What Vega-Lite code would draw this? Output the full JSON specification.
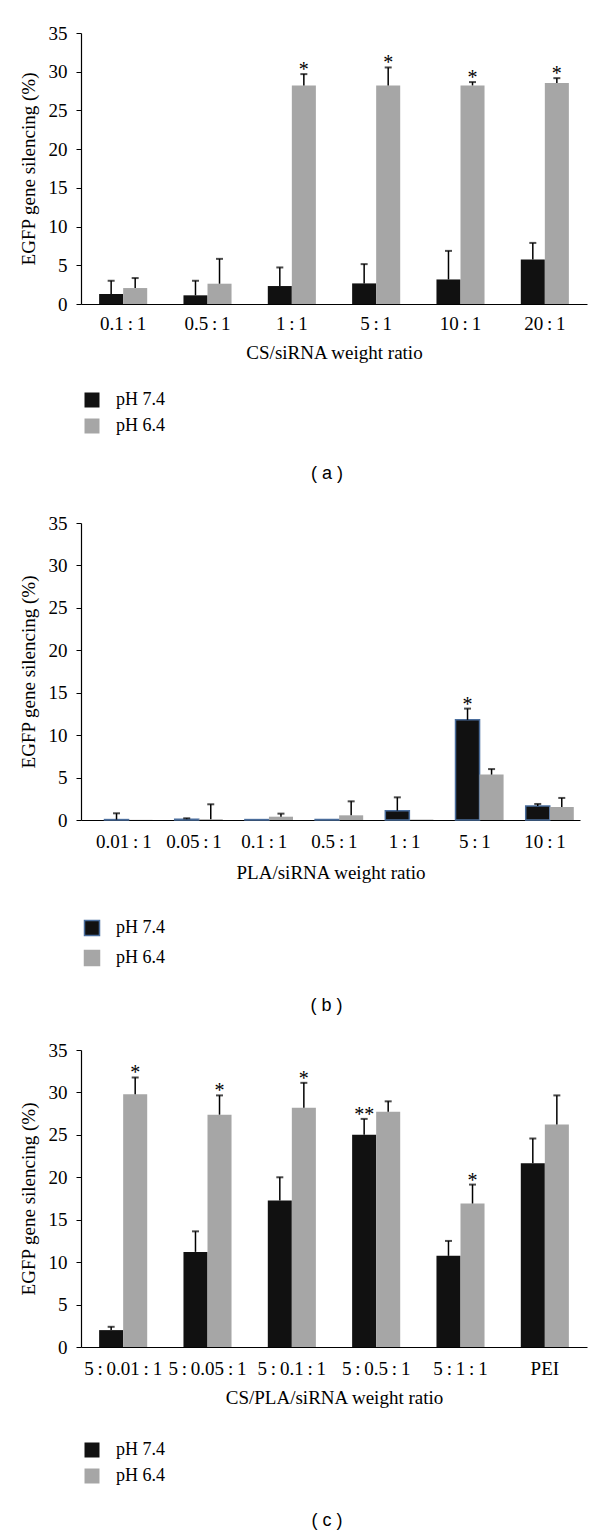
{
  "$schema": "https://vega.github.io/schema/vega-lite/v6.json",
  "background": "white",
  "padding": {"left": 19, "top": 24, "right": 5, "bottom": 0},
  "config": {
    "font": "Liberation Serif",
    "view": {"stroke": null},
    "axis": {"labelFont": "Liberation Serif", "labelFontSize": 19, "labelColor": "black", "titleFont": "Liberation Serif", "titleFontSize": 19, "titleFontWeight": "normal", "titleColor": "black", "domainColor": "black", "domainWidth": 1.2, "tickColor": "black", "grid": false, "labelOverlap": false},
    "axisY": {"labelOverlap": false, "labelBound": false, "labelSeparation": -40, "tickCount": 8},
    "axisQuantitative": {"labelOverlap": false},
    "legend": {"title": null, "orient": "none", "direction": "vertical", "symbolType": "square", "symbolSize": 225, "symbolStrokeWidth": 0, "labelFont": "Liberation Serif", "labelFontSize": 18, "labelColor": "black", "labelOffset": 15, "rowPadding": 8},
    "title": {"font": "Liberation Sans", "fontSize": 18, "fontWeight": "normal", "orient": "bottom", "anchor": "middle", "color": "black"}
  },
  "datasets": {
    "a": [
      {"ratio": "0.1\u2009:\u20091", "pH": "pH 7.4", "value": 1.29, "err": 3.0, "star": null},
      {"ratio": "0.1\u2009:\u20091", "pH": "pH 6.4", "value": 2.06, "err": 3.35, "star": null},
      {"ratio": "0.5\u2009:\u20091", "pH": "pH 7.4", "value": 1.12, "err": 3.0, "star": null},
      {"ratio": "0.5\u2009:\u20091", "pH": "pH 6.4", "value": 2.62, "err": 5.83, "star": null},
      {"ratio": "1\u2009:\u20091", "pH": "pH 7.4", "value": 2.32, "err": 4.72, "star": null},
      {"ratio": "1\u2009:\u20091", "pH": "pH 6.4", "value": 28.23, "err": 29.69, "star": "*"},
      {"ratio": "5\u2009:\u20091", "pH": "pH 7.4", "value": 2.66, "err": 5.15, "star": null},
      {"ratio": "5\u2009:\u20091", "pH": "pH 6.4", "value": 28.23, "err": 30.55, "star": "*"},
      {"ratio": "10\u2009:\u20091", "pH": "pH 7.4", "value": 3.17, "err": 6.86, "star": null},
      {"ratio": "10\u2009:\u20091", "pH": "pH 6.4", "value": 28.23, "err": 28.66, "star": "*"},
      {"ratio": "20\u2009:\u20091", "pH": "pH 7.4", "value": 5.75, "err": 7.89, "star": null},
      {"ratio": "20\u2009:\u20091", "pH": "pH 6.4", "value": 28.53, "err": 29.17, "star": "*"}
    ],
    "b": [
      {"ratio": "0.01\u2009:\u20091", "pH": "pH 7.4", "value": 0.05, "err": 0.79, "star": null},
      {"ratio": "0.01\u2009:\u20091", "pH": "pH 6.4", "value": 0.02, "err": null, "star": null},
      {"ratio": "0.05\u2009:\u20091", "pH": "pH 7.4", "value": 0.1, "err": 0.2, "star": null},
      {"ratio": "0.05\u2009:\u20091", "pH": "pH 6.4", "value": 0.1, "err": 1.85, "star": null},
      {"ratio": "0.1\u2009:\u20091", "pH": "pH 7.4", "value": 0.05, "err": null, "star": null},
      {"ratio": "0.1\u2009:\u20091", "pH": "pH 6.4", "value": 0.39, "err": 0.75, "star": null},
      {"ratio": "0.5\u2009:\u20091", "pH": "pH 7.4", "value": 0.05, "err": null, "star": null},
      {"ratio": "0.5\u2009:\u20091", "pH": "pH 6.4", "value": 0.55, "err": 2.2, "star": null},
      {"ratio": "1\u2009:\u20091", "pH": "pH 7.4", "value": 1.1, "err": 2.67, "star": null},
      {"ratio": "1\u2009:\u20091", "pH": "pH 6.4", "value": 0.05, "err": null, "star": null},
      {"ratio": "5\u2009:\u20091", "pH": "pH 7.4", "value": 11.8, "err": 13.13, "star": "*"},
      {"ratio": "5\u2009:\u20091", "pH": "pH 6.4", "value": 5.35, "err": 6.0, "star": null},
      {"ratio": "10\u2009:\u20091", "pH": "pH 7.4", "value": 1.65, "err": 1.89, "star": null},
      {"ratio": "10\u2009:\u20091", "pH": "pH 6.4", "value": 1.53, "err": 2.6, "star": null}
    ],
    "c": [
      {"ratio": "5\u2009:\u20090.01\u2009:\u20091", "pH": "pH 7.4", "value": 1.99, "err": 2.38, "star": null},
      {"ratio": "5\u2009:\u20090.01\u2009:\u20091", "pH": "pH 6.4", "value": 29.8, "err": 31.76, "star": "*"},
      {"ratio": "5\u2009:\u20090.05\u2009:\u20091", "pH": "pH 7.4", "value": 11.21, "err": 13.63, "star": null},
      {"ratio": "5\u2009:\u20090.05\u2009:\u20091", "pH": "pH 6.4", "value": 27.38, "err": 29.65, "star": "*"},
      {"ratio": "5\u2009:\u20090.1\u2009:\u20091", "pH": "pH 7.4", "value": 17.27, "err": 20.0, "star": null},
      {"ratio": "5\u2009:\u20090.1\u2009:\u20091", "pH": "pH 6.4", "value": 28.2, "err": 31.13, "star": "*"},
      {"ratio": "5\u2009:\u20090.5\u2009:\u20091", "pH": "pH 7.4", "value": 25.0, "err": 26.88, "star": "**"},
      {"ratio": "5\u2009:\u20090.5\u2009:\u20091", "pH": "pH 6.4", "value": 27.73, "err": 28.95, "star": null},
      {"ratio": "5\u2009:\u20091\u2009:\u20091", "pH": "pH 7.4", "value": 10.74, "err": 12.5, "star": null},
      {"ratio": "5\u2009:\u20091\u2009:\u20091", "pH": "pH 6.4", "value": 16.91, "err": 19.14, "star": "*"},
      {"ratio": "PEI", "pH": "pH 7.4", "value": 21.64, "err": 24.57, "star": null},
      {"ratio": "PEI", "pH": "pH 6.4", "value": 26.21, "err": 29.65, "star": null}
    ]
  },
  "columns": 1,
  "align": "none",
  "spacing": 26,
  "resolve": {"legend": {"color": "independent"}, "scale": {"color": "independent"}},
  "concat": [
    {
      "width": 506, "height": 271,
      "data": {"name": "a"},
      "title": {"text": "( a )", "offset": 30, "dx": -7, "subtitle": " ", "subtitleFontSize": 5, "subtitlePadding": 0},
      "encoding": {
        "x": {"field": "ratio", "type": "nominal", "sort": null, "scale": {"paddingInner": 0.43, "paddingOuter": 0.215}, "axis": {"title": "CS/siRNA weight ratio", "labelAngle": 0, "ticks": false, "labelPadding": 10, "titlePadding": 10}},
        "xOffset": {"field": "pH", "type": "nominal", "sort": ["pH 7.4", "pH 6.4"], "scale": {"paddingInner": 0, "paddingOuter": 0}}
      },
      "layer": [
        {"mark": {"type": "bar"},
         "encoding": {
           "y": {"field": "value", "type": "quantitative", "scale": {"domain": [0, 35]}, "axis": {"title": "EGFP gene silencing (%)", "values": [0, 5, 10, 15, 20, 25, 30, 35], "tickCount": 8, "labelOverlap": false, "labelSeparation": -40, "tickSize": 5, "labelPadding": 9, "titlePadding": 10}},
           "color": {"field": "pH", "type": "nominal", "sort": ["pH 7.4", "pH 6.4"], "scale": {"domain": ["pH 7.4", "pH 6.4"], "range": ["#111111", "#a6a6a6"]}, "legend": {"legendX": 2, "legendY": 358}}
         }},
        {"mark": {"type": "rule", "color": "black", "strokeWidth": 1.5},
         "transform": [{"filter": "datum.err != null"}],
         "encoding": {"y": {"field": "value", "type": "quantitative"}, "y2": {"field": "err"}}},
        {"mark": {"type": "tick", "color": "black", "thickness": 2, "size": 7},
         "transform": [{"filter": "datum.err != null"}],
         "encoding": {"y": {"field": "err", "type": "quantitative"}}},
        {"mark": {"type": "text", "baseline": "bottom", "fontSize": 20, "font": "Liberation Serif", "dy": 6},
         "transform": [{"filter": "datum.star != null"}],
         "encoding": {"y": {"field": "err", "type": "quantitative"}, "text": {"field": "star"}}}
      ]
    },
    {
      "width": 499, "height": 297,
      "data": {"name": "b"},
      "title": {"text": "( b )", "offset": 28, "dx": -4},
      "encoding": {
        "x": {"field": "ratio", "type": "nominal", "sort": null, "scale": {"paddingInner": 0.45, "paddingOuter": 0.279, "align": 0.6}, "axis": {"title": "PLA/siRNA weight ratio", "labelAngle": 0, "ticks": false, "labelPadding": 12, "titlePadding": 12}},
        "xOffset": {"field": "pH", "type": "nominal", "sort": ["pH 7.4", "pH 6.4"], "scale": {"paddingInner": 0, "paddingOuter": 0}}
      },
      "layer": [
        {"mark": {"type": "bar", "strokeWidth": 1.5},
         "encoding": {
           "y": {"field": "value", "type": "quantitative", "scale": {"domain": [0, 35]}, "axis": {"title": "EGFP gene silencing (%)", "values": [0, 5, 10, 15, 20, 25, 30, 35], "tickCount": 8, "labelOverlap": false, "tickSize": 5, "labelPadding": 9, "titlePadding": 10}},
           "color": {"field": "pH", "type": "nominal", "sort": ["pH 7.4", "pH 6.4"], "scale": {"domain": ["pH 7.4", "pH 6.4"], "range": ["#111111", "#a6a6a6"]}, "legend": {"legendX": 2, "legendY": 396, "symbolStrokeWidth": 1.5, "symbolStrokeColor": "#a6a6a6", "encode": {"symbols": {"update": {"stroke": {"signal": "datum.value === 'pH 7.4' ? '#4a6d9c' : '#a6a6a6'"}}}}}},
           "stroke": {"condition": {"test": "datum.pH === 'pH 7.4'", "value": "#4a6d9c"}, "value": "transparent"}
         }},
        {"mark": {"type": "rule", "color": "black", "strokeWidth": 1.5},
         "transform": [{"filter": "datum.err != null"}],
         "encoding": {"y": {"field": "value", "type": "quantitative"}, "y2": {"field": "err"}}},
        {"mark": {"type": "tick", "color": "black", "thickness": 2, "size": 7},
         "transform": [{"filter": "datum.err != null"}],
         "encoding": {"y": {"field": "err", "type": "quantitative"}}},
        {"mark": {"type": "text", "baseline": "bottom", "fontSize": 20, "font": "Liberation Serif", "dy": 6},
         "transform": [{"filter": "datum.star != null"}],
         "encoding": {"y": {"field": "err", "type": "quantitative"}, "text": {"field": "star"}}}
      ]
    },
    {
      "width": 506, "height": 297,
      "data": {"name": "c"},
      "title": {"text": "( c )", "offset": 27, "dx": -7},
      "encoding": {
        "x": {"field": "ratio", "type": "nominal", "sort": null, "scale": {"paddingInner": 0.43, "paddingOuter": 0.215}, "axis": {"title": "CS/PLA/siRNA weight ratio", "labelAngle": 0, "ticks": false, "labelPadding": 12, "titlePadding": 10}},
        "xOffset": {"field": "pH", "type": "nominal", "sort": ["pH 7.4", "pH 6.4"], "scale": {"paddingInner": 0, "paddingOuter": 0}}
      },
      "layer": [
        {"mark": {"type": "bar"},
         "encoding": {
           "y": {"field": "value", "type": "quantitative", "scale": {"domain": [0, 35]}, "axis": {"title": "EGFP gene silencing (%)", "values": [0, 5, 10, 15, 20, 25, 30, 35], "tickCount": 8, "labelOverlap": false, "tickSize": 5, "labelPadding": 9, "titlePadding": 10}},
           "color": {"field": "pH", "type": "nominal", "sort": ["pH 7.4", "pH 6.4"], "scale": {"domain": ["pH 7.4", "pH 6.4"], "range": ["#111111", "#a6a6a6"]}, "legend": {"legendX": 2, "legendY": 391}}
         }},
        {"mark": {"type": "rule", "color": "black", "strokeWidth": 1.5},
         "transform": [{"filter": "datum.err != null"}],
         "encoding": {"y": {"field": "value", "type": "quantitative"}, "y2": {"field": "err"}}},
        {"mark": {"type": "tick", "color": "black", "thickness": 2, "size": 7},
         "transform": [{"filter": "datum.err != null"}],
         "encoding": {"y": {"field": "err", "type": "quantitative"}}},
        {"mark": {"type": "text", "baseline": "bottom", "fontSize": 20, "font": "Liberation Serif", "dy": 6},
         "transform": [{"filter": "datum.star != null"}],
         "encoding": {"y": {"field": "err", "type": "quantitative"}, "text": {"field": "star"}}}
      ]
    }
  ]
}
